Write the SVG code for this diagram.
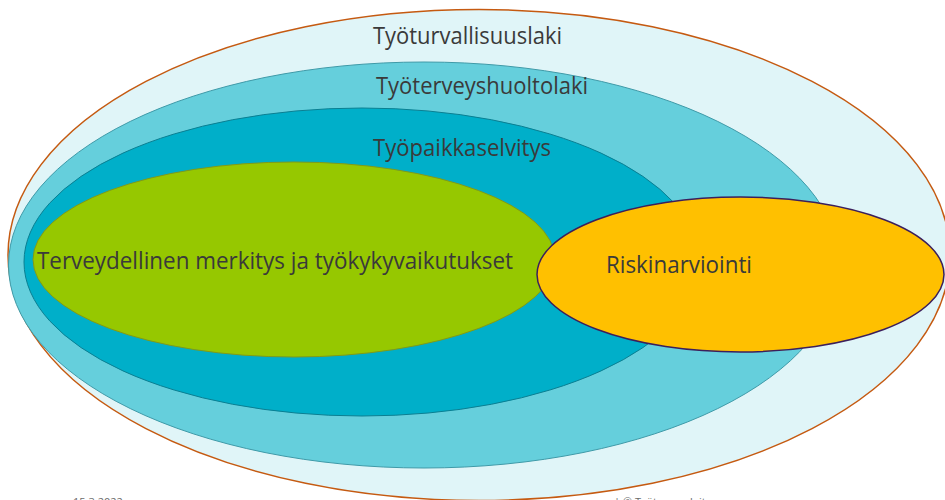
<svg xmlns="http://www.w3.org/2000/svg" width="945" height="500" viewBox="0 0 945 500">
  <style>
    .lbl { font-family: "Open Sans", "Noto Sans", "DejaVu Sans", sans-serif; font-size: 23px; fill: #3a3a3a; }
    .foot { font-family: "Open Sans", "Liberation Sans", sans-serif; font-size: 11px; fill: #6b6b6b; }
  </style>
  <rect x="0" y="0" width="945" height="500" fill="#ffffff"/>
  <g id="tyoturvallisuuslaki">
    <ellipse cx="479" cy="255" rx="471" ry="245.5" fill="#e0f5f8" stroke="#c55a11" stroke-width="1.5"/>
    <text class="lbl" x="373" y="44" textLength="189" lengthAdjust="spacingAndGlyphs">Työturvallisuuslaki</text>
  </g>
  <g id="tyoterveyshuoltolaki">
    <ellipse cx="424" cy="265" rx="415.5" ry="203" fill="#65cfdc" stroke="#3f9aa8" stroke-width="1"/>
    <text class="lbl" x="376" y="94" textLength="212" lengthAdjust="spacingAndGlyphs">Työterveyshuoltolaki</text>
  </g>
  <g id="tyopaikkaselvitys">
    <ellipse cx="362" cy="262" rx="338" ry="154" fill="#00afc9" stroke="#0a7f92" stroke-width="1"/>
    <text class="lbl" x="373" y="156" textLength="178" lengthAdjust="spacingAndGlyphs">Työpaikkaselvitys</text>
  </g>
  <g id="terveydellinen">
    <ellipse cx="294" cy="259.5" rx="261" ry="97.5" fill="#96c800" stroke="#7f9a1a" stroke-width="1"/>
    <text class="lbl" x="37" y="269" textLength="476" lengthAdjust="spacingAndGlyphs">Terveydellinen merkitys ja työkykyvaikutukset</text>
  </g>
  <g id="riskinarviointi">
    <ellipse cx="740.5" cy="274.5" rx="203.5" ry="77.5" fill="#ffc000" stroke="#3b1f5c" stroke-width="1.5"/>
    <text class="lbl" x="606" y="273" textLength="146" lengthAdjust="spacingAndGlyphs">Riskinarviointi</text>
  </g>
  <g id="footer">
    <text class="foot" x="73" y="506">15.3.2022</text>
    <text class="foot" x="614" y="506">|  © Työterveyslaitos</text>
  </g>
</svg>
